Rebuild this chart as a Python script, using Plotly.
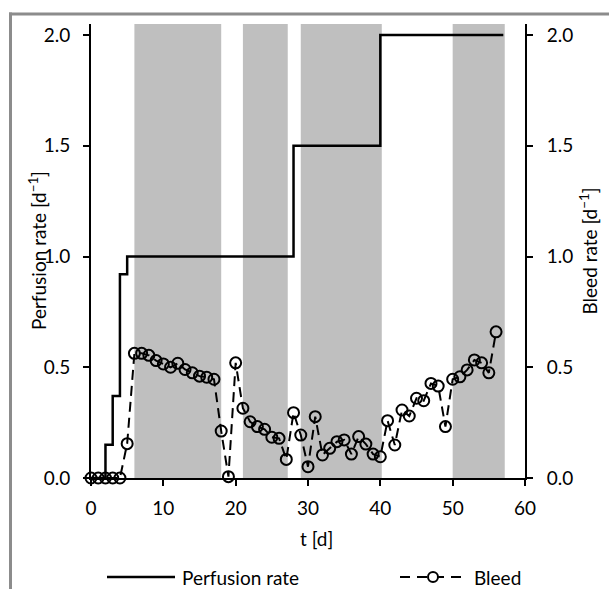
import plotly.graph_objects as go

# ---- data ----
perf_t = [0, 2, 3, 4, 5, 28, 40, 57]
perf_rate = [0.0, 0.15, 0.37, 0.92, 1.0, 1.5, 2.0, 2.0]

bleed_t = list(range(0, 57))
bleed_rate = [0.0, 0.0, 0.0, 0.0, 0.0, 0.155, 0.563, 0.563, 0.554, 0.53,
              0.515, 0.50, 0.518, 0.49, 0.475, 0.46, 0.455, 0.446, 0.212, 0.006,
              0.52, 0.315, 0.254, 0.232, 0.22, 0.184, 0.179, 0.084, 0.295, 0.194,
              0.051, 0.277, 0.104, 0.134, 0.164, 0.172, 0.108, 0.187, 0.153, 0.108,
              0.096, 0.259, 0.149, 0.307, 0.28, 0.36, 0.349, 0.427, 0.415, 0.232,
              0.446, 0.457, 0.488, 0.533, 0.52, 0.475, 0.66]

band_start = [6, 21, 29, 50]
band_end = [18, 27.2, 40.2, 57.2]

y_ticks = [0.0, 0.5, 1.0, 1.5, 2.0]
x_ticks = [0, 10, 20, 30, 40, 50, 60]

# ---- layout geometry ----
W, H = 609, 589
ML, MR, MT, MB = 91, 84, 24, 111
PW = W - ML - MR
PH = H - MT - MB


def px2x(px):
    return (px - ML) / PW


def py2y(py):
    return (H - MB - py) / PH


FONT = "Lato"
FS = 19
fig = go.Figure()

fig.add_trace(go.Scatter(
    x=perf_t, y=perf_rate, mode="lines", name="Perfusion rate",
    line=dict(color="black", width=2.5, shape="hv"),
    showlegend=False, cliponaxis=False))

fig.add_trace(go.Scatter(
    x=bleed_t, y=bleed_rate, mode="lines+markers", name="Bleed", yaxis="y2",
    line=dict(color="black", width=2, dash="10px,6px"),
    marker=dict(symbol="circle-open", size=11, color="black",
                line=dict(width=2, color="black")),
    showlegend=False, cliponaxis=False))

shapes = []
for s, e in zip(band_start, band_end):
    shapes.append(dict(type="rect", xref="x", yref="y", x0=s, x1=e, y0=0, y1=2.05,
                       fillcolor="#bfbfbf", line=dict(width=0), layer="below"))

# outer frame (partially visible)
frame_col = "#8c8c8c"
shapes.append(dict(type="line", xref="paper", yref="paper",
                   x0=px2x(9), x1=px2x(640), y0=py2y(14), y1=py2y(14),
                   line=dict(color=frame_col, width=3)))
shapes.append(dict(type="line", xref="paper", yref="paper",
                   x0=px2x(10.5), x1=px2x(10.5), y0=py2y(12.5), y1=py2y(640),
                   line=dict(color=frame_col, width=3)))

# custom legend
ly = py2y(577)
shapes.append(dict(type="line", xref="paper", yref="paper",
                   x0=px2x(107), x1=px2x(175), y0=ly, y1=ly,
                   line=dict(color="black", width=2.5)))
shapes.append(dict(type="line", xref="paper", yref="paper",
                   x0=px2x(400), x1=px2x(466), y0=ly, y1=ly,
                   line=dict(color="black", width=2, dash="10px,7px")))
shapes.append(dict(type="circle", xref="paper", yref="paper",
                   x0=px2x(428), x1=px2x(438), y0=py2y(582), y1=py2y(572),
                   fillcolor="white", line=dict(color="black", width=2)))

txt_font = dict(family=FONT, size=FS, color="black")
annotations = [
    dict(text="Perfusion rate", xref="paper", yref="paper", x=px2x(180), y=ly,
         xanchor="left", yanchor="middle", showarrow=False, font=txt_font),
    dict(text="Bleed", xref="paper", yref="paper", x=px2x(472), y=ly,
         xanchor="left", yanchor="middle", showarrow=False, font=txt_font),
    # axis titles
    dict(text="Perfusion rate [d<sup>−1</sup>]", xref="paper", yref="paper",
         x=px2x(37), y=py2y(251), xanchor="center", yanchor="middle",
         textangle=-90, showarrow=False, font=txt_font),
    dict(text="t [d]", xref="paper", yref="paper",
         x=px2x(316), y=py2y(538), xanchor="center", yanchor="middle",
         showarrow=False, font=txt_font),
]

axis_common = dict(showgrid=False, zeroline=False, showline=True, linecolor="black",
                   linewidth=2, ticks="outside", tickcolor="black", tickwidth=2,
                   ticklen=6, tickfont=txt_font)

fig.update_layout(
    width=W, height=H,
    margin=dict(l=ML, r=MR, t=MT, b=MB, pad=0),
    plot_bgcolor="white", paper_bgcolor="white",
    font=txt_font,
    xaxis=dict(range=[0, 60], tickvals=x_ticks, ticklabelstandoff=6, **axis_common),
    yaxis=dict(range=[0, 2.05], tickvals=y_ticks, tickformat=".1f",
               ticklabelstandoff=9, **axis_common),
    yaxis2=dict(range=[0, 2.05], tickvals=y_ticks, tickformat=".1f", overlaying="y",
                side="right", ticklabelstandoff=10, **axis_common,
                title=dict(text="Bleed rate [d<sup>−1</sup>]",
                           font=txt_font, standoff=11)),
    shapes=shapes, annotations=annotations,
)

fig.write_html("out.html")
